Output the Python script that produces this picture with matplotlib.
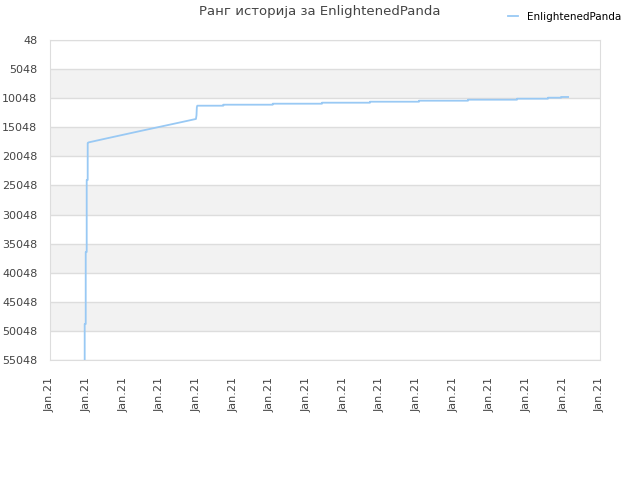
import matplotlib
matplotlib.use("Agg")
import matplotlib.pyplot as plt

# data (x in tick-index units, rank values)
xs = [0.946, 0.946, 0.974, 0.974, 1.001, 1.001, 1.028, 1.028, 1.05,
      1.5, 2.0, 2.5, 3.0, 3.5, 3.98, 3.995, 4.005, 4.017, 4.726, 4.726,
      6.074, 6.074, 7.418, 7.418, 8.727, 8.727, 10.064, 10.064, 11.4, 11.4,
      12.736, 12.736, 13.58, 13.58, 13.94, 13.94, 14.13]
ranks = [55048, 48860, 48860, 36486, 36486, 24111, 24111, 17750, 17650,
         17020, 16330, 15640, 14960, 14280, 13620, 13000, 11600, 11340, 11340, 11168,
         11168, 10996, 10996, 10824, 10824, 10653, 10653, 10481, 10481, 10309,
         10309, 10137, 10137, 9965, 9965, 9845, 9845]
tick_labels = ["Jan.21"] * 16
ytick_vals = [48 + 5000 * i for i in range(12)]
series_name = "EnlightenedPanda"
title = "Ранг историја за EnlightenedPanda"

fig = plt.figure(figsize=(6.4, 4.8), dpi=100)
ax = fig.add_axes([50/640, 1-360/480, 550/640, 320/480])

ax.set_xlim(0, 15)
ax.set_ylim(55048, 48)

# alternating bands
for i in range(len(ytick_vals) - 1):
    if i % 2 == 1:
        ax.axhspan(ytick_vals[i], ytick_vals[i+1], color="#f2f2f2", zorder=0, lw=0)
for v in ytick_vals:
    ax.axhline(v, color="#dddddd", lw=1, zorder=1)

ax.plot(xs, ranks, color="#99c9f4", lw=1.3, zorder=3, label=series_name)

ax.set_yticks(ytick_vals)
ax.set_yticklabels([str(v) for v in ytick_vals])
ax.set_xticks(range(16))
ax.set_xticklabels(tick_labels, rotation=90)
ax.tick_params(axis="both", length=0, labelsize=8, colors="#444444")
ax.tick_params(axis="x", pad=12)
ax.tick_params(axis="y", pad=9)
for s in ax.spines.values():
    s.set_color("#dddddd")

fig.text(0.5, 1-12/480, title, ha="center", va="center", fontsize=9.5, color="#444444")
fig.legend(loc="upper right", bbox_to_anchor=(0.985, 0.995), frameon=False, fontsize=7.5,
           handlelength=1.0, handletextpad=0.8)

fig.savefig("out.png", dpi=100)
